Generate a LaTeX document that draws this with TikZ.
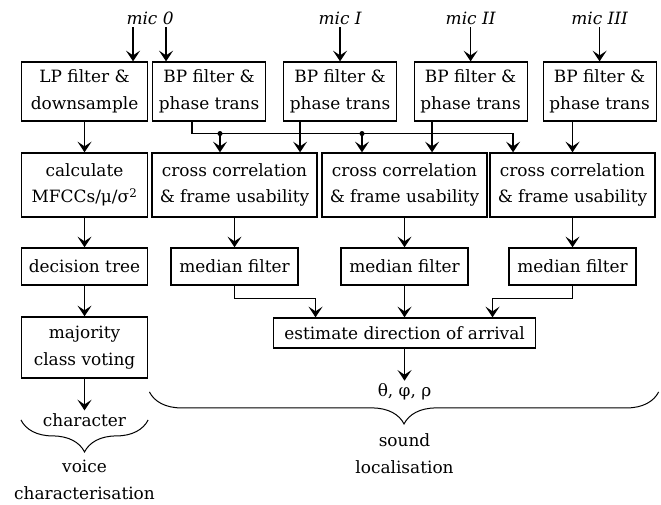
\documentclass[tikz,border=0pt]{standalone}
\usepackage{fontspec}
\setmainfont{DejaVu Serif}
\usepackage{tikz}
\usetikzlibrary{arrows.meta}
\usetikzlibrary{calc,positioning,decorations.pathreplacing}
\tikzset{%
  >={Stealth[width=10.5pt,length=8pt,inset=3.5pt]},
  % Styles of the blocks and of the free labels:
  base/.style = {rectangle, draw=black, line width=0.9pt,
    inner sep=2pt, align=center,
    font=\fontsize{12.7pt}{20pt}\selectfont},
  leftBlock/.style = {base, minimum width=94.5pt},
  bpFilter/.style = {base, minimum width=84.75pt, minimum height=44.25pt},
  crossCorr/.style = {base, minimum width=123.75pt, minimum height=48pt},
  medFilter/.style = {base, minimum width=95.25pt, minimum height=27.75pt},
  micLabel/.style = {inner sep=2pt,
    font=\fontsize{12.7pt}{20pt}\selectfont\itshape},
  plainText/.style = {inner sep=2pt, align=center,
    font=\fontsize{12.7pt}{20pt}\selectfont},
  curly/.style = {decorate, decoration={brace, mirror, amplitude=24pt},
    line width=0.75pt},
  link/.style = {->, line width=1pt},
}

\begin{document}
\begin{tikzpicture}
  \useasboundingbox (0,0) rectangle (495.75pt,-378pt);
  % Specification of nodes (position, etc.)
  \node(LP)[leftBlock, minimum height=44.25pt] at (63.4pt,-68.6pt) {LP filter \&\\ downsample};
  \node(BPa)[bpFilter, node distance=93.4pt, right of=LP]{BP filter \&\\ phase trans};
  \node(BPb)[bpFilter, node distance=98.25pt, right of=BPa]{BP filter \&\\ phase trans};
  \node(BPc)[bpFilter, node distance=97.9pt, right of=BPb]{BP filter \&\\ phase trans};
  \node(BPd)[bpFilter, node distance=96.75pt, right of=BPc]{BP filter \&\\ phase trans};
  \node(MicO)[micLabel, node distance=55.1pt, above of=BPa, xshift=-44.25pt]{mic 0};
  \node(MicI)[micLabel, node distance=55.1pt, above of=BPb]{mic I};
  \node(MicII)[micLabel, node distance=55.1pt, above of=BPc]{mic II};
  \node(MicIII)[micLabel, node distance=55.1pt, above of=BPd]{mic III};

  \node(Calc)[leftBlock, minimum height=48pt, node distance=70.1pt, below of=LP]{calculate\\ MFCCs/μ/σ\textsuperscript{2}};
  \node(CCa)[crossCorr, node distance=112.5pt, right of=Calc]{cross correlation\\ \& frame usability};
  \node(CCb)[crossCorr, node distance=127.5pt, right of=CCa]{cross correlation\\ \& frame usability};
  \node(CCc)[crossCorr, node distance=126pt, right of=CCb]{cross correlation\\ \& frame usability};

  \node(Tree)[leftBlock, minimum height=27.75pt, node distance=61.1pt, below of=Calc]{decision tree};
  \node(Meda)[medFilter, node distance=61.1pt, below of=CCa]{median filter};
  \node(Medb)[medFilter, node distance=61.1pt, below of=CCb]{median filter};
  \node(Medc)[medFilter, node distance=61.1pt, below of=CCc]{median filter};

  \node(Vote)[leftBlock, minimum height=45.75pt, node distance=60.75pt, below of=Tree]{majority\\ class voting};
  \node(Doa)[base, minimum width=196.5pt, minimum height=22.5pt, node distance=49.9pt, below of=Medb]{estimate direction of arrival};
  \node(Angles)[plainText, node distance=44.25pt, below of=Doa]{θ, φ, ρ};
  \node(Char)[plainText, node distance=54.4pt, below of=Vote]{character};
  \node(Voice)[plainText, node distance=45pt, below of=Char]{voice\\ characterisation};
  \node(Sound)[plainText, node distance=46.1pt, below of=Angles]{sound\\ localisation};

  % microphone inputs
  \draw[link] ([xshift=-12.75pt]MicO.south) -- ([xshift=-12.75pt]MicO.south |- LP.north);
  \draw[link] ([xshift=12pt]MicO.south) -- ([xshift=12pt]MicO.south |- BPa.north);
  \foreach \m/\b in {MicI/BPb, MicII/BPc, MicIII/BPd}
    \draw[link] (\m) -- (\b);

  % mic 0 is shared by all three pairs
  \coordinate (busStart) at ([xshift=-12.75pt]BPa.south);
  \coordinate (bus) at ($(busStart)+(0,-9pt)$);
  \coordinate (tapA) at ([xshift=-10.9pt]CCa.north);
  \coordinate (tapB) at ([xshift=-31.9pt]CCb.north);
  \draw[link] (busStart) -- (bus) -| ([xshift=-44.6pt]CCc.north);
  \draw[link] (tapA |- bus) -- (tapA);
  \draw[link] (tapB |- bus) -- (tapB);
  \fill (tapA |- bus) circle (1.9pt);
  \fill (tapB |- bus) circle (1.9pt);
  \draw[link] ([xshift=-30pt]BPb.south) -- ([xshift=-30pt]BPb.south |- CCa.north);
  \draw[link] ([xshift=-28.9pt]BPc.south) -- ([xshift=-28.9pt]BPc.south |- CCb.north);
  \draw[link] (CCc.north |- BPd.south) -- (CCc.north);

  % voice path
  \draw[link] (LP) -- (Calc);
  \draw[link] (Calc) -- (Tree);
  \draw[link] (Tree) -- (Vote);
  \draw[link] (Vote) -- (Char);

  % localisation path
  \foreach \c/\f in {CCa/Meda, CCb/Medb, CCc/Medc}
    \draw[link] (\c) -- (\f);
  \draw[link] (Meda.south) -- ++(0,-9.75pt) -| ([xshift=-66.75pt]Doa.north);
  \draw[link] (Medb) -- (Doa);
  \draw[link] (Medc.south) -- ++(0,-9.75pt) -| ([xshift=66pt]Doa.north);
  \draw[link] (Doa) -- (Angles);

  % braces
  \draw[curly] (Vote.west |- Char) -- (Vote.east |- Char);
  \draw[curly] ([xshift=-1.5pt]CCa.west |- Angles) -- ([xshift=2.25pt]CCc.east |- Angles);
\end{tikzpicture}
\end{document}
